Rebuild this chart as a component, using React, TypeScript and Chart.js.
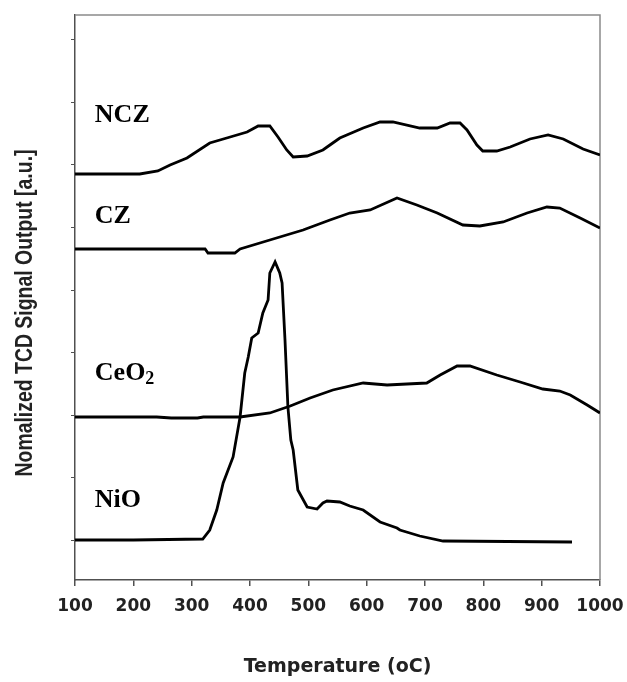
import React, { useEffect, useRef } from "react";
import { Chart, registerables } from "chart.js";

Chart.register(...registerables);

// ---- Data (Temperature in °C, normalized TCD signal in a.u., curves stacked with offsets) ----
const xMin = 100;
const xMax = 1000;
const xStep = 100;
const yMin = 0;
const yMax = 5.65;
const yTickValues = [0.4, 1.025, 1.65, 2.275, 2.9, 3.525, 4.15, 4.775, 5.4];

const xTitle = "Temperature (oC)";
const yTitle = "Nomalized TCD Signal Output [a.u.]";

const nczT = [100, 211, 242, 263, 292, 331, 366, 395, 414, 434, 448, 463, 474, 498, 525, 537, 554, 594, 623, 645, 691, 721, 743, 760, 772, 789, 799, 823, 846, 880, 911, 937, 971, 1000];
const nczY = [4.06, 4.06, 4.09, 4.15, 4.22, 4.37, 4.43, 4.48, 4.54, 4.54, 4.43, 4.30, 4.23, 4.24, 4.30, 4.35, 4.42, 4.52, 4.58, 4.58, 4.52, 4.52, 4.57, 4.57, 4.50, 4.35, 4.29, 4.29, 4.33, 4.41, 4.45, 4.41, 4.31, 4.25];

const czT = [100, 323, 328, 374, 383, 434, 491, 537, 571, 606, 652, 686, 721, 765, 794, 834, 875, 909, 931, 966, 1000];
const czY = [3.31, 3.31, 3.27, 3.27, 3.31, 3.40, 3.50, 3.60, 3.67, 3.70, 3.82, 3.75, 3.67, 3.55, 3.54, 3.58, 3.67, 3.73, 3.72, 3.62, 3.52];

const ceoT = [100, 240, 265, 310, 320, 383, 434, 469, 503, 542, 594, 635, 703, 726, 755, 777, 823, 863, 902, 931, 949, 978, 1000];
const ceoY = [1.63, 1.63, 1.62, 1.62, 1.63, 1.63, 1.67, 1.74, 1.82, 1.90, 1.97, 1.95, 1.97, 2.05, 2.14, 2.14, 2.05, 1.98, 1.91, 1.89, 1.85, 1.75, 1.67];

const nioT = [100, 200, 319, 331, 343, 354, 371, 383, 391, 397, 403, 414, 422, 431, 434, 443, 451, 455, 460, 465, 470, 474, 482, 498, 515, 525, 532, 554, 571, 594, 623, 652, 657, 691, 731, 952];
const nioY = [0.40, 0.40, 0.41, 0.50, 0.70, 0.97, 1.23, 1.63, 2.07, 2.23, 2.42, 2.47, 2.67, 2.80, 3.07, 3.18, 3.07, 2.97, 2.40, 1.73, 1.40, 1.30, 0.90, 0.73, 0.71, 0.77, 0.79, 0.78, 0.74, 0.70, 0.58, 0.52, 0.50, 0.44, 0.39, 0.38];

// Series labels (main text, subscript), anchored in data coordinates
const labelMain = ["NCZ", "CZ", "CeO", "NiO"];
const labelSub = ["", "", "2", ""];
const labelT = [134, 134, 134, 134];
const labelY = [4.58, 3.57, 2.0, 0.73];

function toPoints(xs: number[], ys: number[]) {
  return xs.map((x, i) => ({ x, y: ys[i] }));
}

const frameColor = "#8a8a8a";
const axisColor = "#505050";

export default function App() {
  const ref = useRef<HTMLCanvasElement | null>(null);

  useEffect(() => {
    if (!ref.current) return;

    const framePlugin = {
      id: "frame",
      beforeDatasetsDraw(chart: any) {
        const { ctx, chartArea } = chart;
        ctx.save();
        ctx.strokeStyle = frameColor;
        ctx.lineWidth = 1.5;
        ctx.beginPath();
        ctx.moveTo(chartArea.left, chartArea.top);
        ctx.lineTo(chartArea.right, chartArea.top);
        ctx.lineTo(chartArea.right, chartArea.bottom);
        ctx.stroke();
        ctx.restore();
      },
    };

    const labelPlugin = {
      id: "seriesLabels",
      afterDatasetsDraw(chart: any) {
        const { ctx } = chart;
        const xs = chart.scales.x;
        const ys = chart.scales.y;
        ctx.save();
        ctx.fillStyle = "#000";
        ctx.textBaseline = "alphabetic";
        ctx.textAlign = "left";
        for (let i = 0; i < labelMain.length; i++) {
          const px = xs.getPixelForValue(labelT[i]);
          const py = ys.getPixelForValue(labelY[i]);
          ctx.font = "bold 26px 'Liberation Serif', 'Times New Roman', serif";
          ctx.fillText(labelMain[i], px, py);
          if (labelSub[i]) {
            const w = ctx.measureText(labelMain[i]).width;
            ctx.font = "bold 18px 'Liberation Serif', 'Times New Roman', serif";
            ctx.fillText(labelSub[i], px + w, py + 4);
          }
        }
        ctx.restore();
      },
    };

    const yTitlePlugin = {
      id: "yTitle",
      afterDraw(chart: any) {
        const { ctx } = chart;
        ctx.save();
        ctx.font = "bold 23px 'Liberation Sans', Arial, sans-serif";
        const w = ctx.measureText(yTitle).width;
        const target = 327;
        ctx.translate(32, 313);
        ctx.rotate(-Math.PI / 2);
        ctx.scale(target / w, 1);
        ctx.fillStyle = "#222";
        ctx.textAlign = "center";
        ctx.textBaseline = "alphabetic";
        ctx.fillText(yTitle, 0, 0);
        ctx.restore();
      },
    };

    const lineStyle = {
      showLine: true,
      borderColor: "#000",
      borderWidth: 2.8,
      pointRadius: 0,
      tension: 0,
      fill: false,
    };

    const chart = new Chart(ref.current, {
      type: "scatter",
      data: {
        datasets: [
          { label: "NCZ", data: toPoints(nczT, nczY), ...lineStyle },
          { label: "CZ", data: toPoints(czT, czY), ...lineStyle },
          { label: "CeO2", data: toPoints(ceoT, ceoY), ...lineStyle },
          { label: "NiO", data: toPoints(nioT, nioY), ...lineStyle },
        ],
      },
      options: {
        animation: false,
        responsive: true,
        maintainAspectRatio: false,
        layout: { padding: { left: 0, right: 27, top: 15, bottom: 0 } },
        plugins: {
          legend: { display: false },
          tooltip: { enabled: false },
        },
        scales: {
          x: {
            type: "linear",
            min: xMin,
            max: xMax,
            border: { display: true, color: axisColor, width: 1.5 },
            grid: {
              drawOnChartArea: false,
              drawTicks: true,
              tickLength: 6,
              color: axisColor,
              lineWidth: 1.5,
            },
            ticks: {
              stepSize: xStep,
              padding: 10,
              color: "#222",
              font: { family: "'DejaVu Sans', sans-serif", weight: "bold", size: 17 },
              maxRotation: 0,
              callback: (v: any) => String(v),
            },
            title: {
              display: true,
              text: xTitle,
              color: "#222",
              font: { family: "'DejaVu Sans', sans-serif", weight: "bold", size: 19 },
              padding: { top: 0, bottom: 4 },
            },
            afterFit(scale: any) {
              scale.height = 102;
              scale.paddingLeft = 0;
              scale.paddingRight = 0;
            },
          },
          y: {
            type: "linear",
            min: yMin,
            max: yMax,
            border: { display: true, color: axisColor, width: 1.5 },
            grid: {
              drawOnChartArea: false,
              drawTicks: true,
              tickLength: 4,
              color: axisColor,
              lineWidth: 1,
            },
            ticks: { display: false },
            afterBuildTicks(scale: any) {
              scale.ticks = yTickValues.map((v) => ({ value: v }));
            },
            afterFit(scale: any) {
              scale.width = 75;
              scale.paddingTop = 0;
              scale.paddingBottom = 0;
            },
          },
        },
      },
      plugins: [framePlugin, labelPlugin, yTitlePlugin],
    });

    return () => chart.destroy();
  }, []);

  return (
    <div style={{ position: "fixed", left: 0, top: 0, width: 627, height: 682, background: "#fff" }}>
      <canvas ref={ref} />
    </div>
  );
}
